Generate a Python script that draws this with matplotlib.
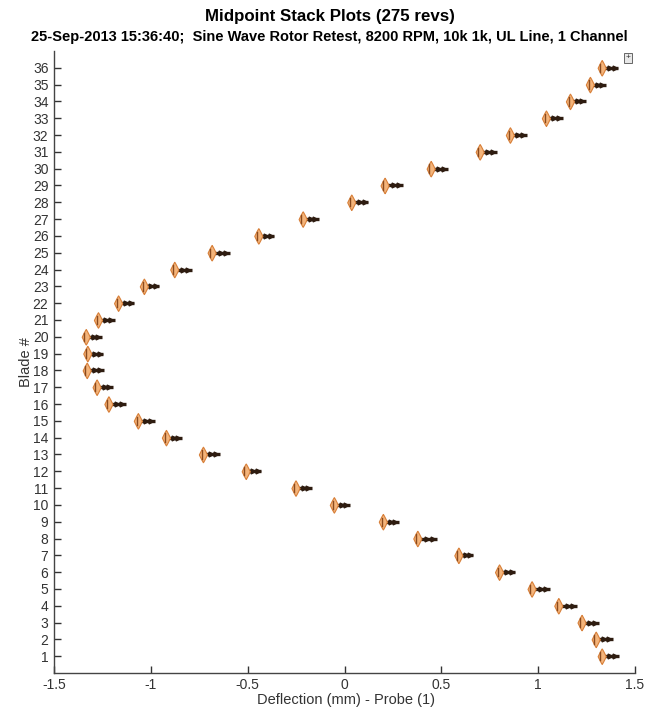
import numpy as np
import matplotlib
matplotlib.use("Agg")
import matplotlib.pyplot as plt

plt.rcParams['font.family'] = ['Liberation Sans', 'DejaVu Sans']

# -------------------------------
# Data
# -------------------------------
blades = list(range(1, 37))
# midpoint deflection of each blade (mm)
deflection = [1.328, 1.297, 1.224, 1.104, 0.966, 0.798, 0.588, 0.376, 0.198, -0.055,
              -0.253, -0.510, -0.731, -0.922, -1.067, -1.219, -1.280, -1.331, -1.328, -1.336,
              -1.273, -1.169, -1.036, -0.879, -0.686, -0.445, -0.216, 0.035, 0.207, 0.445,
              0.698, 0.854, 1.040, 1.164, 1.267, 1.328]
# length of the dark spread tail to the right (mm)
spread = [0.088, 0.088, 0.088, 0.098, 0.093, 0.083, 0.078, 0.103, 0.083, 0.083,
          0.083, 0.078, 0.088, 0.083, 0.088, 0.093, 0.083, 0.088, 0.083, 0.083,
          0.088, 0.083, 0.078, 0.093, 0.093, 0.083, 0.083, 0.088, 0.093, 0.088,
          0.088, 0.088, 0.088, 0.083, 0.083, 0.086]

title = "Midpoint Stack Plots (275 revs)"
subtitle = "25-Sep-2013 15:36:40;  Sine Wave Rotor Retest, 8200 RPM, 10k 1k, UL Line, 1 Channel"

# -------------------------------
# Figure
# -------------------------------
fig = plt.figure(figsize=(6.46, 7.14), dpi=100)
ax = fig.add_axes([0.0836, 0.0574, 0.8994, 0.8712])

dark = '#2e1c10'
fill = '#f4b47a'
edge = '#d8803a'

t = np.linspace(-1, 1, 61)
for b, c, s in zip(blades, deflection, spread):
    # spread tail
    ax.plot([c - 0.014, c + s], [b, b], color=dark, lw=2.4, solid_capstyle='butt', zorder=2)
    ax.plot([c + s * 0.5, c + s * 0.78], [b, b], color=dark, lw=0, marker='>',
            markersize=3.5, zorder=2)
    # spindle of the stacked revs
    hw = 0.021 * (1 - np.abs(t)) ** 0.9
    yy = b + 0.46 * t
    ax.fill_betweenx(yy, c - hw, c + hw, facecolor=fill, edgecolor=edge, lw=0.8, zorder=3)
    ax.plot([c - 0.007, c - 0.007], [b - 0.25, b + 0.25], color='#8a4a1e', lw=1.0, zorder=4)

ax.set_xlim(-1.5, 1.5)
ax.set_ylim(0, 37)
ax.set_xticks([-1.5, -1, -0.5, 0, 0.5, 1, 1.5])
ax.set_xticklabels(['-1.5', '-1', '-0.5', '0', '0.5', '1', '1.5'])
ax.set_yticks(blades)
ax.tick_params(direction='in', length=5, width=1, labelsize=10, colors='#333333')
ax.tick_params(axis='y', pad=4)
for side in ['top', 'right']:
    ax.spines[side].set_visible(False)
for side in ['left', 'bottom']:
    ax.spines[side].set_color('#444444')
    ax.spines[side].set_linewidth(1)

fig.text(0.04, 0.493, "Blade #", rotation=90, ha='center', va='center', fontsize=10.5,
         color='#333333')
fig.text(0.536, 0.02, "Deflection (mm) - Probe (1)", ha='center', va='center', fontsize=10.5,
         color='#333333')

fig.text(0.511, 0.977, title, ha='center', va='center', fontsize=12.2, fontweight='bold')
fig.text(0.51, 0.948, subtitle, ha='center', va='center', fontsize=10.5, fontweight='bold')

# small plot-browser box in the corner
fig.text(0.972, 0.919, "+", ha='center', va='center', fontsize=6, color='#333333',
         bbox=dict(boxstyle='square,pad=0.15', facecolor='#e8e8e8', edgecolor='#666666', lw=0.7))

fig.savefig("out.png", dpi=100)
